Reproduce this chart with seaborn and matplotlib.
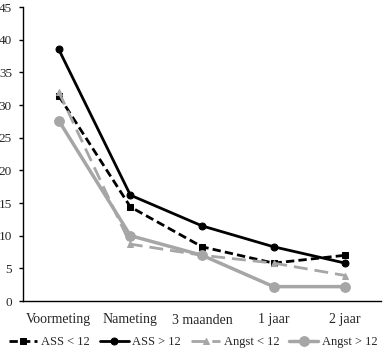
import matplotlib
matplotlib.use("Agg")
import matplotlib.pyplot as plt
import seaborn as sns
import pandas as pd

categories = ["Voormeting", "Nameting", "3 maanden", "1 jaar", "2 jaar"]
ass_lt12 = [31.4, 14.4, 8.3, 5.8, 7.0]
ass_gt12 = [38.5, 16.2, 11.5, 8.3, 5.8]
angst_lt12 = [32.0, 8.7, 7.0, 5.8, 3.9]
angst_gt12 = [27.6, 10.0, 7.0, 2.2, 2.2]
series_names = ["ASS < 12", "ASS > 12", "Angst < 12", "Angst > 12"]
yticks = [0, 5, 10, 15, 20, 25, 30, 35, 40, 45]

sns.set_style("white")
plt.rcParams['font.family'] = ['Liberation Serif', 'DejaVu Serif']

rows = []
for name, vals in zip(series_names, [ass_lt12, ass_gt12, angst_lt12, angst_gt12]):
    for i, v in enumerate(vals):
        rows.append({"pos": i, "value": v, "series": name})
df = pd.DataFrame(rows)

fig = plt.figure(figsize=(3.86, 3.55), dpi=100)
ax = fig.add_axes([23/386, 1-301/355, (381-23)/386, (301-7)/355])

styles = {
    "ASS < 12": dict(color="black", ls=(0, (3, 1.5)), marker="s", ms=5, lw=2),
    "ASS > 12": dict(color="black", ls="-", marker="o", ms=5, lw=2),
    "Angst < 12": dict(color="#a6a6a6", ls=(0, (5, 2.5)), marker="^", ms=5, lw=2),
    "Angst > 12": dict(color="#a6a6a6", ls="-", marker="o", ms=7, lw=2.5),
}
for name in series_names:
    st = styles[name]
    sub = df[df.series == name]
    sns.lineplot(data=sub, x="pos", y="value", ax=ax, color=st["color"],
                 linestyle=st["ls"], marker=st["marker"], markersize=st["ms"],
                 linewidth=st["lw"], markeredgecolor=st["color"], label=name,
                 legend=False)

ax.set_xlim(-0.5, 4.5)
ax.set_ylim(0, 45)
ax.set_yticks(yticks)
ax.set_yticklabels([str(t) for t in yticks], fontsize=9.5)
ax.set_xticks(range(len(categories)))
ax.set_xticklabels(categories, fontsize=10)
ax.set_xticks([i - 0.5 for i in range(len(categories) + 1)], minor=True)
ax.tick_params(axis="x", which="major", length=0, pad=9)
ax.tick_params(axis="x", which="minor", length=4, width=1, direction="out", color="black")
ax.tick_params(axis="y", length=3, width=1, direction="out", color="black", pad=5, left=True)
ax.set_xlabel("")
ax.set_ylabel("")
sns.despine(ax=ax)
for s in ["left", "bottom"]:
    ax.spines[s].set_color("black")
    ax.spines[s].set_linewidth(1)

handles = ax.get_lines()[:4]
fig.legend(handles, series_names, loc="center", bbox_to_anchor=(0.5, 1 - 342/355),
           ncol=4, frameon=False, fontsize=9, handlelength=2.3,
           columnspacing=0.8, handletextpad=0.3, borderaxespad=0, borderpad=0)

fig.savefig("out.png", dpi=100)
